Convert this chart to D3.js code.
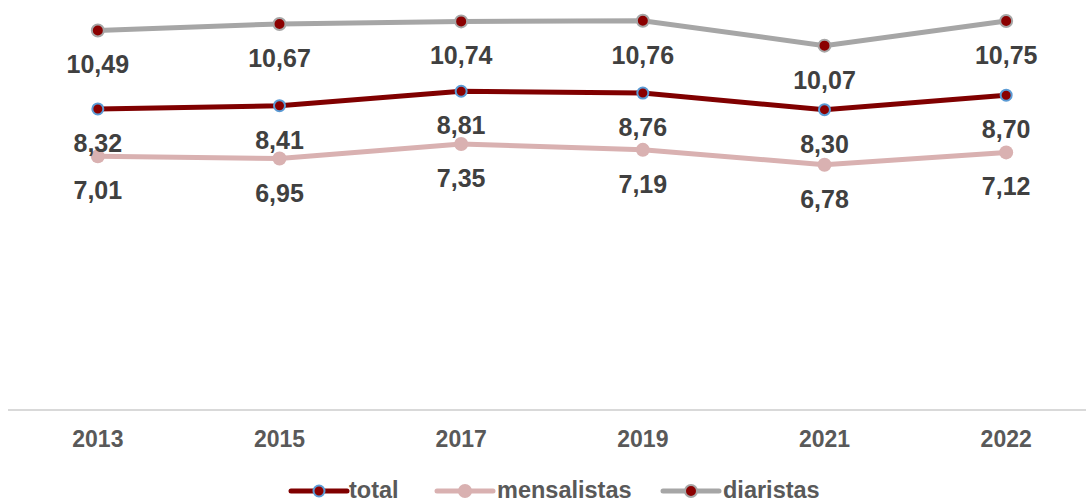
<!DOCTYPE html>
<meta charset="utf-8">
<head>
<style>
body { margin: 0; background: #fff; }
svg { display: block; font-family: "Liberation Sans", Arial, sans-serif; }
.lbl { font-weight: bold; fill: #404040; font-size: 25px; }
.axis text { font-weight: bold; fill: #595959; font-size: 23px; font-family: "Liberation Sans", Arial, sans-serif; }
.legend text { font-weight: bold; fill: #595959; font-size: 23.5px; }
</style>
</head>
<body>
<div id="chart"></div>
<script src="https://d3js.org/d3.v7.min.js"></script>
<script>

// data
var years = ["2013", "2015", "2017", "2019", "2021", "2022"];
var total = [8.32, 8.41, 8.81, 8.76, 8.30, 8.70];
var mensalistas = [7.01, 6.95, 7.35, 7.19, 6.78, 7.12];
var diaristas = [10.49, 10.67, 10.74, 10.76, 10.07, 10.75];

var width = 1086, height = 499;

var svg = d3.select("#chart").append("svg")
    .attr("width", width)
    .attr("height", height);

var x = d3.scaleBand()
    .domain(years)
    .range([7, 1097]);

var y = d3.scaleLinear()
    .domain([0, 11])
    .range([410, 12]);

// x axis
var xAxis = svg.append("g")
    .attr("class", "axis")
    .attr("transform", "translate(0,410)")
    .call(d3.axisBottom(x).tickSize(0).tickPadding(21));
xAxis.select(".domain")
    .attr("d", "M8,0H1086")
    .attr("stroke", "#d9d9d9")
    .attr("stroke-width", 2);

var series = [
  {name: "total", values: total, line: "#800000", fill: "#8b0000", stroke: "#5b9bd5", r: 5.5, sw: 2},
  {name: "mensalistas", values: mensalistas, line: "#d9b1b1", fill: "#d9b1b1", stroke: "none", r: 7, sw: 0},
  {name: "diaristas", values: diaristas, line: "#a6a6a6", fill: "#8b0000", stroke: "#a6a6a6", r: 6, sw: 2}
];

var cx = function(i) { return x(years[i]) + x.bandwidth() / 2; };

var line = d3.line()
    .x(function(d, i) { return cx(i); })
    .y(function(d) { return y(d); });

// draw order: mensalistas, total, diaristas
[series[1], series[0], series[2]].forEach(function(s) {
  svg.append("path")
    .datum(s.values)
    .attr("d", line)
    .attr("fill", "none")
    .attr("stroke", s.line)
    .attr("stroke-width", 5);
  svg.selectAll(null)
    .data(s.values)
    .enter().append("circle")
    .attr("cx", function(d, i) { return cx(i); })
    .attr("cy", function(d) { return y(d); })
    .attr("r", s.r)
    .attr("fill", s.fill)
    .attr("stroke", s.stroke)
    .attr("stroke-width", s.sw);
});

// labels below points
series.forEach(function(s) {
  svg.selectAll(null)
    .data(s.values)
    .enter().append("text")
    .attr("class", "lbl")
    .attr("x", function(d, i) { return cx(i); })
    .attr("y", function(d) { return y(d) + 43; })
    .attr("text-anchor", "middle")
    .text(function(d) { return d.toFixed(2).replace(".", ","); });
});

// legend
var legendX = [291, 437, 663];
var legend = svg.append("g").attr("class", "legend");
series.forEach(function(s, i) {
  var g = legend.append("g").attr("transform", "translate(" + legendX[i] + ",491)");
  g.append("line")
    .attr("x1", 0).attr("x2", 56)
    .attr("stroke", s.line)
    .attr("stroke-width", 5)
    .attr("stroke-linecap", "round");
  g.append("circle")
    .attr("cx", 28)
    .attr("r", s.r)
    .attr("fill", s.fill)
    .attr("stroke", s.stroke)
    .attr("stroke-width", s.sw);
  g.append("text")
    .attr("x", i == 0 ? 58 : 60)
    .attr("y", 7)
    .text(s.name);
});
</script>
</body>
</html>
